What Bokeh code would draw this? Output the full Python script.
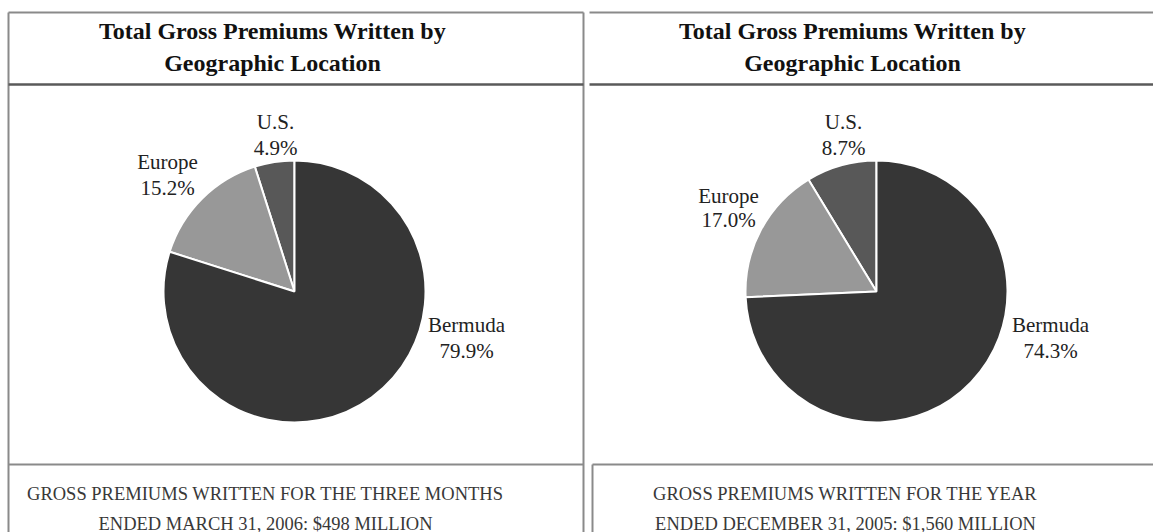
import numpy as np
from bokeh.plotting import figure
from bokeh.models import Range1d, ColumnDataSource
from bokeh.core.properties import value
from bokeh.embed import file_html
from bokeh.resources import INLINE

# ---------------- data ----------------
title_lines = ["Total Gross Premiums Written by", "Geographic Location"]
regions = ["U.S.", "Europe", "Bermuda"]
share_q1_2006 = [4.9, 15.2, 79.9]
share_fy_2005 = [8.7, 17.0, 74.3]
slice_colors = ["#585858", "#989898", "#363636"]
footer_left = ["GROSS PREMIUMS WRITTEN FOR THE THREE MONTHS",
               "ENDED MARCH 31, 2006: $498 MILLION"]
footer_right = ["GROSS PREMIUMS WRITTEN FOR THE YEAR",
                "ENDED DECEMBER 31, 2005: $1,560 MILLION"]

# ---------------- layout (pixel space, y measured from top) ----------------
W, H = 1153, 532
SERIF = "Liberation Serif"

p = figure(width=W, height=H, output_backend="svg", toolbar_location=None,
           x_range=Range1d(0, W), y_range=Range1d(0, H),
           x_axis_location=None, y_axis_location=None,
           min_border=0, outline_line_color=None)
p.grid.visible = False
p.background_fill_color = "white"
p.border_fill_color = "white"


def Y(y):
    return H - y


# panel borders
seg_x0 = [8, 8, 583, 589, 592]
seg_y0 = [12, 12, 12, 12, 464]
seg_x1 = [583, 8, 583, 1153, 592]
seg_y1 = [12, 532, 532, 12, 532]
p.segment(x0=seg_x0, y0=[Y(v) for v in seg_y0], x1=seg_x1, y1=[Y(v) for v in seg_y1],
          line_color="#8a8a8a", line_width=2)
# footer separators
p.segment(x0=[8, 592], y0=[Y(464), Y(464)], x1=[583, 1153], y1=[Y(464), Y(464)],
          line_color="#8a8a8a", line_width=2)
# darker title separators
p.segment(x0=[8, 589], y0=[Y(84), Y(84)], x1=[583, 1153], y1=[Y(84), Y(84)],
          line_color="#5a5a5a", line_width=2.5)


def draw_panel(cx, shares, title_cx, footer, footer_cx, label_pos):
    # titles
    for i, t in enumerate(title_lines):
        p.text(x=[title_cx], y=[Y(30 + 32 * i)], text=[t], text_font=value(SERIF),
               text_font_style="bold", text_font_size="24px", text_color="#111111",
               text_align="center", text_baseline="middle")
    # pie
    frac = np.array(shares) / np.sum(shares)
    ends = np.pi / 2 + 2 * np.pi * np.cumsum(frac)
    starts = np.concatenate([[np.pi / 2], ends[:-1]])
    src = ColumnDataSource(dict(region=regions, start=starts, end=ends, color=slice_colors))
    p.wedge(x=cx, y=Y(291), radius=131, start_angle="start", end_angle="end",
            fill_color="color", line_color="white", line_width=2, source=src)
    # labels
    for r, s, (lx, ly, gap) in zip(regions, shares, label_pos):
        p.text(x=[lx, lx], y=[Y(ly), Y(ly + gap)], text=[r, f"{s:.1f}%"],
               text_font=value(SERIF), text_font_size="21px", text_color="#222222",
               text_align="center", text_baseline="middle")
    # footer
    for i, t in enumerate(footer):
        p.text(x=[footer_cx], y=[Y(493 + 30 * i)], text=[t], text_font=value(SERIF),
               text_font_size="18.5px", text_color="#383838",
               text_align="center", text_baseline="middle")


draw_panel(294, share_q1_2006, 272, footer_left, 265,
           [(275, 121, 26), (167, 161, 26), (466, 324, 26)])
draw_panel(876, share_fy_2005, 852, footer_right, 845,
           [(843, 121, 26), (728, 195, 24), (1050, 324, 26)])

open("out.html", "w").write(file_html(p, INLINE))
